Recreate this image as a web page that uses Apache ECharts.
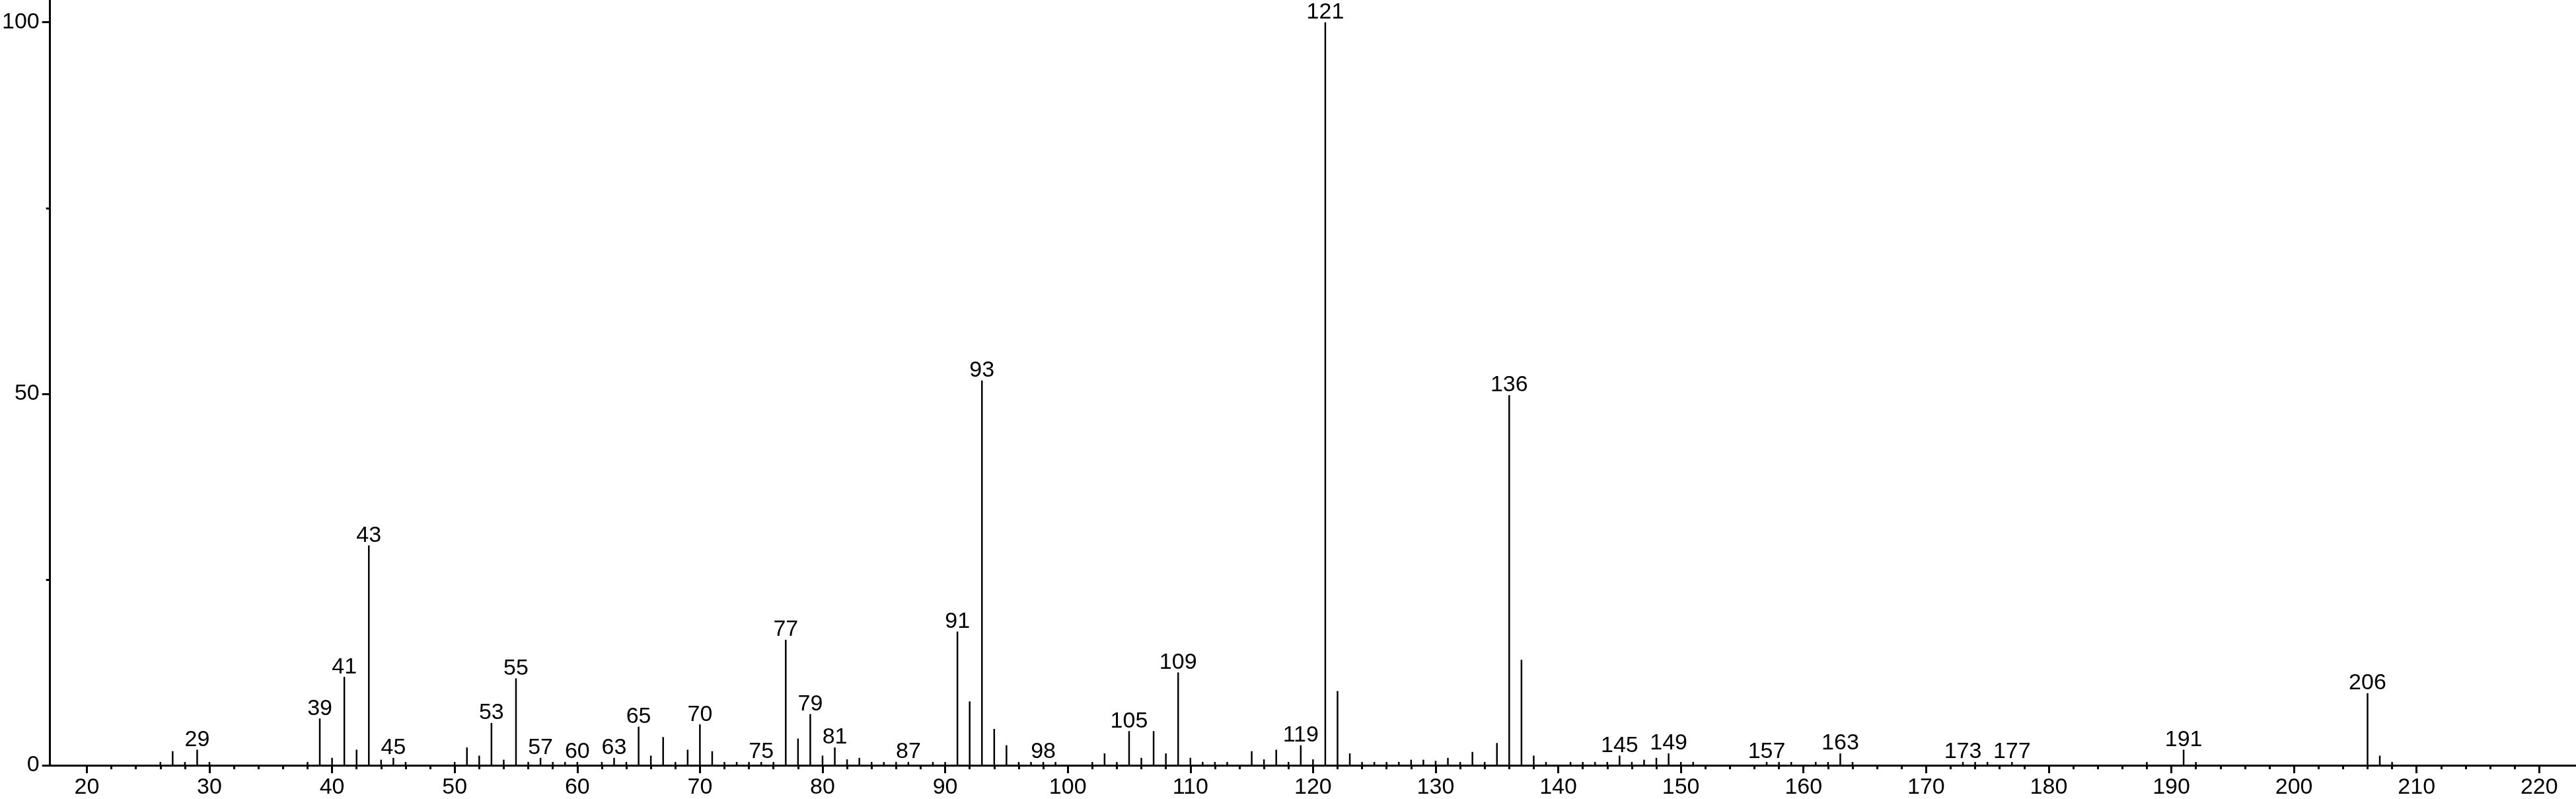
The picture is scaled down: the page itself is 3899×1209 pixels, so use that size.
<!DOCTYPE html>
<html>
<head>
<meta charset="utf-8">
<script src="https://cdn.jsdelivr.net/npm/echarts@6/dist/echarts.min.js"></script>
<style>
html,body{margin:0;padding:0;background:#fff;}
#chart{width:3899px;height:1209px;}
</style>
</head>
<body>
<div id="chart"></div>
<script>
// m/z values
var mzValues = [26,27,28,29,30,38,39,40,41,42,43,44,45,46,50,51,52,53,54,55,56,57,58,59,60,62,63,64,65,66,67,
  68,69,70,71,72,73,74,75,76,77,78,79,80,81,82,83,84,85,86,87,89,90,
  91,92,93,94,95,96,97,98,99,102,103,104,105,106,107,108,109,110,111,112,113,115,116,117,118,119,120,
  121,122,123,124,125,126,127,128,129,130,131,132,133,134,135,136,137,138,139,141,142,143,144,145,146,147,148,149,150,151,
  157,158,159,161,162,163,164,173,174,175,177,188,191,192,206,207,208];
// relative intensities (%)
var intensities = [0.45,1.9,0.45,2.1,0.45,0.45,6.3,1.0,11.9,2.1,29.6,0.75,1.0,0.45,0.45,2.4,1.3,5.7,0.75,11.7,0.45,1.0,0.45,0.45,0.45,0.45,1.0,0.45,5.2,1.3,3.8,
  0.45,2.1,5.5,1.9,0.45,0.45,0.45,0.45,0.45,16.9,3.6,6.9,1.3,2.4,0.8,1.0,0.45,0.45,0.45,0.45,0.45,0.45,
  18.0,8.6,51.8,4.9,2.7,0.45,0.45,0.45,0.45,0.45,1.6,0.45,4.6,1.0,4.6,1.6,12.5,1.0,0.45,0.45,0.45,1.9,0.8,2.1,0.45,2.7,0.8,
  100,10.0,1.6,0.45,0.45,0.45,0.45,0.75,0.75,0.6,1.0,0.45,1.8,0.45,3.0,49.8,14.2,1.3,0.45,0.45,0.45,0.45,0.45,1.3,0.45,0.75,1.0,1.6,0.45,0.45,
  0.45,0.45,0.45,0.45,0.45,1.6,0.45,0.45,0.45,0.45,0.45,0.45,2.1,0.45,9.7,1.3,0.45];
// peaks carrying an m/z label
var labeledPeaks = [29,39,41,43,45,53,55,57,60,63,65,70,75,77,79,81,87,91,93,98,105,109,119,121,136,145,149,157,163,173,177,191,206];
// axis ticks
var xMajorTicks = [20,30,40,50,60,70,80,90,100,110,120,130,140,150,160,170,180,190,200,210,220];
var xMinorTicks = [22,24,26,28,32,34,36,38,42,44,46,48,52,54,56,58,62,64,66,68,72,74,76,78,82,84,86,88,92,94,96,98,
  102,104,106,108,112,114,116,118,122,124,126,128,132,134,136,138,142,144,146,148,152,154,156,158,162,164,166,168,
  172,174,176,178,182,184,186,188,192,194,196,198,202,204,206,208,212,214,216,218];
var yMajorTicks = [0,50,100];
var yMinorTicks = [25,75];

var FONT_FAMILY = "'Liberation Sans', Arial, Helvetica, sans-serif";
var FONT_SIZE = 34;
var data = mzValues.map(function(m, i){
  return [m, intensities[i], labeledPeaks.indexOf(m) >= 0 ? 1 : 0];
});

var chart = echarts.init(document.getElementById('chart'), null, {renderer:'canvas'});
var X_MIN = 17, X_MAX = 223, Y_MAX = 103;
chart.setOption({
  backgroundColor:'#ffffff',
  animation:false,
  grid:{left:69, right:0, top:0, bottom:48, containLabel:false},
  xAxis:[{
    type:'value', min:X_MIN, max:X_MAX, position:'bottom',
    axisLine:{show:true, onZero:false, lineStyle:{color:'#000', width:3}},
    axisTick:{show:true, inside:false, length:12, customValues:xMajorTicks, lineStyle:{color:'#000', width:3}},
    axisLabel:{show:true, customValues:xMajorTicks, margin:17, color:'#000', fontSize:FONT_SIZE, fontFamily:FONT_FAMILY},
    splitLine:{show:false}
  },{
    type:'value', min:X_MIN, max:X_MAX, position:'bottom',
    axisLine:{show:false},
    axisTick:{show:true, inside:false, length:6, customValues:xMinorTicks, lineStyle:{color:'#000', width:3}},
    axisLabel:{show:false},
    splitLine:{show:false}
  }],
  yAxis:[{
    type:'value', min:0, max:Y_MAX, position:'left',
    axisLine:{show:true, onZero:false, lineStyle:{color:'#000', width:3}},
    axisTick:{show:true, inside:false, length:12, customValues:yMajorTicks, lineStyle:{color:'#000', width:3}},
    axisLabel:{show:true, customValues:yMajorTicks, margin:16, color:'#000', fontSize:FONT_SIZE, fontFamily:FONT_FAMILY},
    splitLine:{show:false}
  },{
    type:'value', min:0, max:Y_MAX, position:'left',
    axisLine:{show:false},
    axisTick:{show:true, inside:false, length:6, customValues:yMinorTicks, lineStyle:{color:'#000', width:3}},
    axisLabel:{show:false},
    splitLine:{show:false}
  }],
  series:[{
    type:'custom',
    xAxisIndex:0, yAxisIndex:0,
    clip:false,
    encode:{x:0, y:1},
    renderItem:function(params, api){
      var x = api.value(0), y = api.value(1), lab = api.value(2);
      var p0 = api.coord([x, 0]);
      var p1 = api.coord([x, y]);
      var children = [{
        type:'line',
        shape:{x1:p0[0], y1:p0[1], x2:p1[0], y2:p1[1]},
        style:{stroke:'#000', lineWidth:2.5}
      }];
      if (lab) {
        children.push({
          type:'text',
          style:{text:String(x), x:p1[0], y:p1[1] + 2, align:'center', verticalAlign:'bottom',
            fontSize:FONT_SIZE, fontFamily:FONT_FAMILY, fill:'#000'}
        });
      }
      return {type:'group', children:children};
    },
    data:data
  }]
});
</script>
</body>
</html>
